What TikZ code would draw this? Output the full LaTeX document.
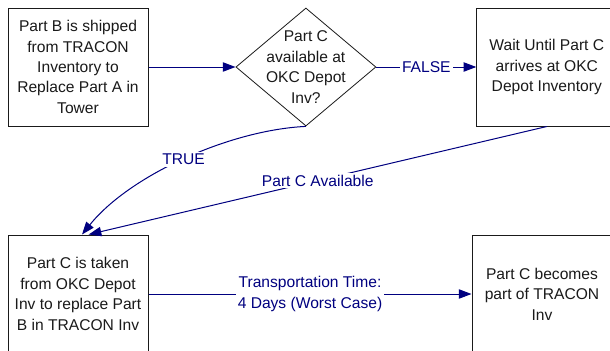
\documentclass[tikz,border=0pt]{standalone}
\usepackage{fontspec}
\setmainfont{Liberation Sans}
\usetikzlibrary{positioning,arrows.meta,shapes.geometric}
\definecolor{cFlow}{HTML}{000080}
\definecolor{cLine}{HTML}{1A1A1A}

\begin{document}
\begin{tikzpicture}[x=0.75pt,y=-0.75pt,
    every node/.style={font=\fontsize{11.7}{15.3}\selectfont,align=center,text=cLine},
    task/.style={draw=cLine,line width=0.75pt,minimum width=105pt,minimum height=88.5pt,inner sep=0pt},
    decision/.style={draw=cLine,line width=0.6pt,shape=diamond,minimum width=105pt,minimum height=88.5pt,inner sep=0pt},
    flow/.style={draw=cFlow,line width=0.75pt,-{Triangle[length=9.5pt,width=7pt]}},
    flowtext/.style={fill=white,text=cFlow,inner sep=1.5pt}]
  \path[use as bounding box,fill=white] (0,0) rectangle (610,350);

  % top row
  \node[task] (ship) at (78,67) {Part B is shipped\\from TRACON\\Inventory to\\Replace Part A in\\Tower};
  \node[decision,right=65.25pt of ship,
        label={center:{Part C\\available at\\OKC Depot\\Inv?}}] (avail) {};
  \node[task,right=75pt of avail] (wait) {Wait Until Part C\\arrives at OKC\\Depot Inventory};

  % bottom row
  \node[task,below=81pt of ship] (taken) {Part C is taken\\from OKC Depot\\Inv to replace Part\\B in TRACON Inv};
  \node[task,right=242.25pt of taken] (joins) {Part C becomes\\part of TRACON\\Inv};

  \draw[flow] (ship) -- (avail);
  \draw[flow] (avail) -- node[flowtext] {FALSE} (wait);
  \draw[flow] (avail.south) .. controls (230,130) and (130,175) .. ([xshift=3pt]taken.north)
    node[flowtext,pos=0.5] {TRUE};
  \draw[flow] (wait.south) -- node[flowtext] {Part C Available} ([xshift=8pt]taken.north);
  \draw[flow] (taken) -- node[flowtext] {Transportation Time:\\4 Days (Worst Case)} (joins);
\end{tikzpicture}
\end{document}
